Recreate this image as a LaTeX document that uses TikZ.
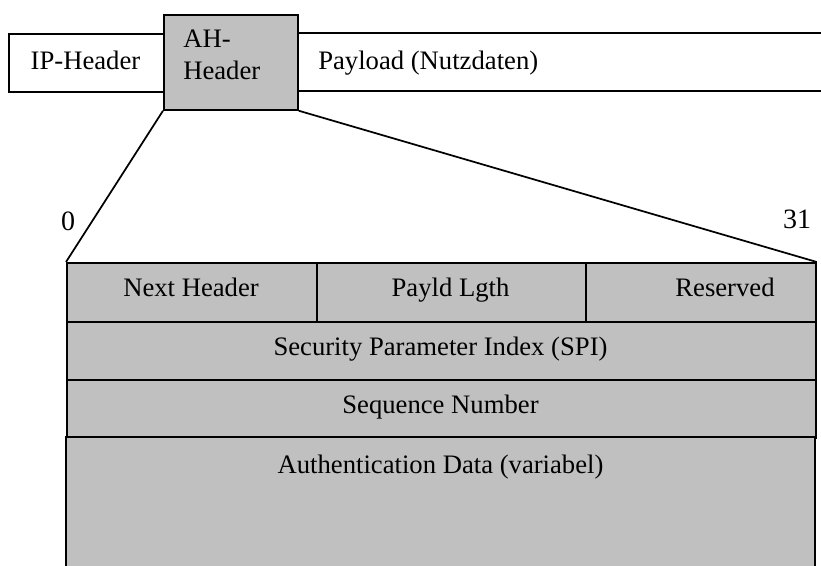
\documentclass[tikz,border=0pt]{standalone}
\usepackage{fontspec}
\setmainfont{Liberation Serif}
\definecolor{silverg}{RGB}{192,192,192}
\begin{document}
\begin{tikzpicture}[x=0.75pt,y=-0.75pt,
  ln/.style={line width=1.3pt},
  box/.style={draw, ln, inner sep=0pt, anchor=north west},
  gbox/.style={box, fill=silverg},
  lbl/.style={inner sep=0pt, anchor=base, font=\fontsize{20}{22}\selectfont},
  num/.style={inner sep=0pt, anchor=base, font=\fontsize{21}{24}\selectfont}]
\useasboundingbox (0,0) rectangle (821,566);
% top packet
\node[box, minimum width=116.25pt, minimum height=43.5pt] (ip) at (8,33) {};
\node[lbl] (ipl) at (85.5,70) {IP-Header};
\coordinate (plA) at (297,33);
\coordinate (plB) at (821,33);
\coordinate (plC) at (297,91);
\coordinate (plD) at (821,91);
\draw[ln] (plA) -- (plB);
\draw[ln] (plC) -- (plD);
\node[lbl, anchor=base west] (pl) at (318,70) {Payload (Nutzdaten)};
\node[gbox, minimum width=100.5pt, minimum height=71.25pt] (ah) at (163,14) {};
\node[lbl, anchor=base west] (ahl1) at (183,48) {AH-};
\node[lbl, anchor=base west] (ahl2) at (183,80) {Header};
% table
\node[gbox, minimum width=187.5pt, minimum height=44.25pt] (nh) at (66,262) {};
\node[gbox, minimum width=201.75pt, minimum height=44.25pt] (pll) at (316,262) {};
\node[gbox, minimum width=172.5pt, minimum height=44.25pt] (res) at (585,262) {};
\node[lbl] (nhl) at (191,297) {Next Header};
\node[lbl] (plll) at (450.5,297) {Payld Lgth};
\node[lbl] (resl) at (725,297) {Reserved};
\node[gbox, minimum width=561.75pt, minimum height=43.5pt] (spi) at (66,321) {};
\node[lbl] (spil) at (440.5,356) {Security Parameter Index (SPI)};
\node[gbox, minimum width=561.75pt, minimum height=43.5pt] (seq) at (66,379) {};
\node[lbl] (seql) at (440.5,414) {Sequence Number};
\coordinate (adA) at (66,437);
\coordinate (adB) at (815,437);
\coordinate (adC) at (66,575);
\coordinate (adD) at (815,575);
\fill[silverg] (adA) rectangle (adD);
\draw[ln] (adC) -- (adA) -- (adB) -- (adD);
\node[lbl] (adl) at (440.5,473) {Authentication Data (variabel)};
% connectors
\draw[ln] (ah.south west) -- (nh.north west);
\draw[ln] (ah.south east) -- (res.north east);
\node[num] (n0) at (68,231) {0};
\node[num] (n31) at (797,229) {31};
\end{tikzpicture}
\end{document}
